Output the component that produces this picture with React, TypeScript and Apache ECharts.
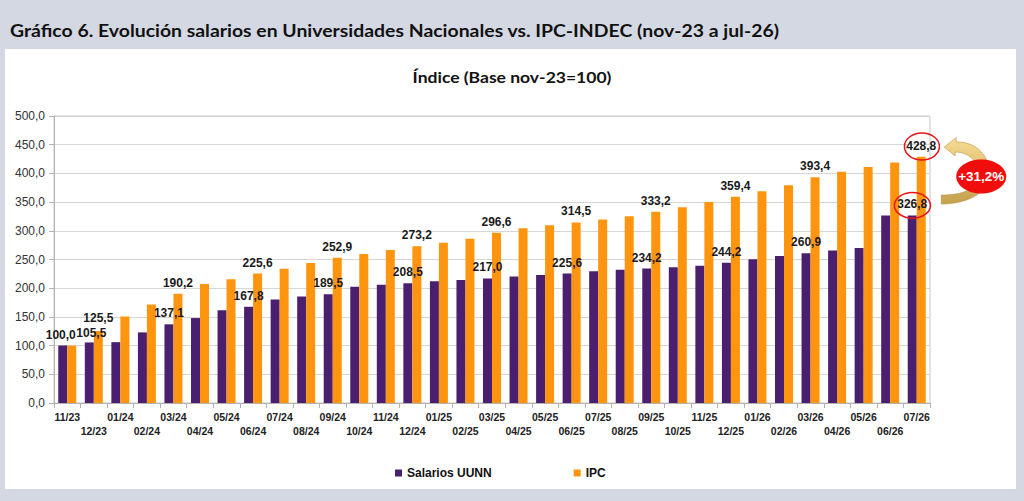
import React, { useEffect, useRef } from "react";
import * as echarts from "echarts";

const TITLE = "Gráfico 6. Evolución salarios en Universidades Nacionales vs. IPC-INDEC (nov-23 a jul-26)";
const SUBTITLE = "Índice (Base nov-23=100)";

const CATEGORIES = [
  "11/23", "12/23",
  "01/24", "02/24", "03/24", "04/24", "05/24", "06/24", "07/24", "08/24", "09/24", "10/24", "11/24", "12/24",
  "01/25", "02/25", "03/25", "04/25", "05/25", "06/25", "07/25", "08/25", "09/25", "10/25", "11/25", "12/25",
  "01/26", "02/26", "03/26", "04/26", "05/26", "06/26", "07/26",
];

const SALARIOS = [
  100.0, 105.5,
  106.0, 123.0, 137.1, 148.0, 161.5, 167.8, 180.5, 185.5, 189.5, 202.5, 206.0, 208.5,
  212.0, 214.5, 217.0, 220.5, 222.8, 225.6, 229.5, 232.0, 234.2, 236.5, 239.0, 244.2,
  250.5, 256.0, 260.9, 265.5, 270.0, 326.5, 326.8,
];

const IPC = [
  100.0, 125.5,
  150.5, 171.5, 190.2, 207.5, 215.5, 225.6, 234.0, 244.0, 252.9, 259.5, 266.5, 273.2,
  279.0, 286.0, 296.6, 304.5, 309.5, 314.5, 319.5, 325.5, 333.2, 341.0, 350.0, 359.4,
  369.0, 379.5, 393.4, 403.0, 411.0, 419.0, 428.8,
];

const SALARIOS_LABELED = [0, 1, 4, 7, 10, 13, 16, 19, 22, 25, 28, 32];
const IPC_LABELED = [1, 4, 7, 10, 13, 16, 19, 22, 25, 28, 32];

const SERIES_NAMES = ["Salarios UUNN", "IPC"];
const COLORS = ["#4b1f6f", "#ff950e"];
const Y_MIN = 0;
const Y_MAX = 500;
const Y_INTERVAL = 50;
const DIFF_LABEL = "+31,2%";

const BAR_W = 9;
const LABEL_FONT = "'Liberation Sans', Arial, sans-serif";
const TITLE_FONT = "Lato, 'Open Sans', sans-serif";

const ARROW_D =
  "M0 0 L12 -9.5 L12 -5 C33 -6 47 11 45 29 C44 47 21 57 -3 57 L-3 48 C17 48 33 43 34 29 C35 15 25 5 11 5 L11 9 Z";
echarts.graphic.registerShape("curvedArrow", echarts.graphic.extendPath(ARROW_D, {}));

const fmt = (v: number) => v.toFixed(1).replace(".", ",");

function measure(text: string, font: string): number {
  const ctx = document.createElement("canvas").getContext("2d");
  if (!ctx) return 0;
  ctx.font = font;
  return ctx.measureText(text).width;
}

export default function App() {
  const ref = useRef<HTMLDivElement>(null);

  useEffect(() => {
    if (!ref.current) return;
    const chart = echarts.init(ref.current, undefined, { renderer: "svg" });

    const labelStyle = {
      position: "top" as const,
      distance: 5.5,
      fontSize: 12,
      lineHeight: 11,
      fontWeight: "bold" as const,
      fontFamily: LABEL_FONT,
      color: "#1a1a1a",
      formatter: (p: any) => fmt(p.value),
    };

    // the first labels crowd each other; nudge them apart slightly
    const nudgeSal: Record<number, number[]> = { 0: [-2, 0], 1: [2, 1.5] };
    const nudgeIpc: Record<number, number[]> = { 1: [0, -1.5] };

    const mkData = (vals: number[], labeled: number[], nudge: Record<number, number[]>) =>
      vals.map((v, i) => ({
        value: v,
        label: {
          show: labeled.includes(i),
          ...(nudge[i] ? { offset: nudge[i] } : {}),
        },
      }));

    chart.setOption({
      animation: false,
      backgroundColor: "#d4d8e3",
      grid: {
        left: 54,
        right: 94,
        top: 116,
        bottom: 98,
        show: true,
        borderColor: "#c8c8c8",
        borderWidth: 1,
        backgroundColor: "transparent",
      },
      legend: {
        data: SERIES_NAMES,
        left: 390,
        top: 462,
        icon: "rect",
        itemWidth: 7,
        itemHeight: 7,
        itemGap: 82,
        textStyle: { fontSize: 12, fontWeight: "bold", fontFamily: LABEL_FONT, color: "#111" },
      },
      xAxis: {
        type: "category",
        data: CATEGORIES,
        boundaryGap: true,
        axisLine: { show: true, lineStyle: { color: "#b3b3b3" } },
        axisTick: { show: true, length: 5, lineStyle: { color: "#b3b3b3" } },
        axisLabel: {
          interval: 0,
          margin: 7,
          fontSize: 10.5,
          fontWeight: "bold",
          fontFamily: LABEL_FONT,
          color: "#222",
          lineHeight: 14,
          formatter: (v: string, i: number) => (i % 2 === 1 ? "\n" + v : v),
        },
        splitLine: { show: false },
      },
      yAxis: {
        type: "value",
        min: Y_MIN,
        max: Y_MAX,
        interval: Y_INTERVAL,
        axisLine: { show: true, lineStyle: { color: "#b3b3b3" } },
        axisTick: { show: true, length: 5, lineStyle: { color: "#b3b3b3" } },
        axisLabel: {
          margin: 9,
          fontSize: 12,
          fontFamily: LABEL_FONT,
          color: "#333",
          formatter: (v: number) => fmt(v),
        },
        splitLine: { show: true, lineStyle: { color: "#d6d6d6" } },
      },
      series: [
        {
          name: SERIES_NAMES[0],
          type: "bar",
          data: mkData(SALARIOS, SALARIOS_LABELED, nudgeSal),
          barWidth: BAR_W,
          barGap: "0%",
          itemStyle: { color: COLORS[0] },
          label: labelStyle,
          z: 3,
        },
        {
          name: SERIES_NAMES[1],
          type: "bar",
          data: mkData(IPC, IPC_LABELED, nudgeIpc),
          barWidth: BAR_W,
          barGap: "0%",
          itemStyle: { color: COLORS[1] },
          label: labelStyle,
          z: 3,
        },
      ],
    });

    const last = CATEGORIES.length - 1;
    const pSal = chart.convertToPixel({ gridIndex: 0 }, [last, SALARIOS[last]]) as number[];
    const pIpc = chart.convertToPixel({ gridIndex: 0 }, [last, IPC[last]]) as number[];
    const catX = pSal[0];
    const purpleX = catX - BAR_W / 2;
    const orangeX = catX + BAR_W / 2;
    const eIpc = { cx: orangeX + 0.7, cy: pIpc[1] - 10.3 };
    const eSal = { cx: purpleX + 0.2, cy: pSal[1] - 10 };
    const badge = { cx: orangeX + 60, cy: (eIpc.cy + eSal.cy) / 2 + 0.5 };

    const titleFont = `bold 17px ${TITLE_FONT}`;
    const subFont = `bold 15px ${TITLE_FONT}`;
    const tW = measure(TITLE, titleFont) || 770;
    const sW = measure(SUBTITLE, subFont) || 199;

    chart.setOption({
      graphic: [
        {
          type: "rect",
          z: -10,
          shape: { x: 5, y: 49, width: 1011, height: 440 },
          style: { fill: "#ffffff" },
        },
        {
          type: "text",
          x: 10,
          y: 30,
          scaleX: 770 / tW,
          style: {
            text: TITLE,
            fontSize: 17,
            fontWeight: "bold",
            fontFamily: TITLE_FONT,
            fill: "#111",
            align: "left",
            verticalAlign: "middle",
          },
        },
        {
          type: "text",
          x: 512,
          y: 77,
          scaleX: 199 / sW,
          style: {
            text: SUBTITLE,
            fontSize: 15,
            fontWeight: "bold",
            fontFamily: TITLE_FONT,
            fill: "#111",
            align: "center",
            verticalAlign: "middle",
          },
        },
        {
          type: "curvedArrow",
          z: 100,
          x: orangeX + 23,
          y: eIpc.cy + 0.5,
          style: {
            fill: new echarts.graphic.LinearGradient(0, 0, 0, 1, [
              { offset: 0, color: "#f7dc92" },
              { offset: 1, color: "#c4a04e" },
            ]),
            stroke: "#b8954a",
            lineWidth: 0.6,
          },
        },
        {
          type: "ellipse",
          z: 101,
          shape: { cx: eIpc.cx, cy: eIpc.cy, rx: 17.5, ry: 13.5 },
          style: { fill: "none", stroke: "#e8161b", lineWidth: 1.5 },
        },
        {
          type: "ellipse",
          z: 101,
          shape: { cx: eSal.cx, cy: eSal.cy, rx: 18, ry: 12.8 },
          style: { fill: "none", stroke: "#e8161b", lineWidth: 1.5 },
        },
        {
          type: "ellipse",
          z: 102,
          shape: { cx: badge.cx, cy: badge.cy, rx: 25, ry: 17 },
          style: { fill: "#f20d0d" },
        },
        {
          type: "text",
          z: 103,
          x: badge.cx,
          y: badge.cy,
          style: {
            text: DIFF_LABEL,
            fontSize: 13.5,
            fontWeight: "bold",
            fontFamily: LABEL_FONT,
            fill: "#ffffff",
            align: "center",
            verticalAlign: "middle",
          },
        },
      ],
    });

    return () => chart.dispose();
  }, []);

  return (
    <div
      ref={ref}
      style={{ position: "fixed", left: 0, top: 0, width: 1024, height: 501 }}
    />
  );
}
